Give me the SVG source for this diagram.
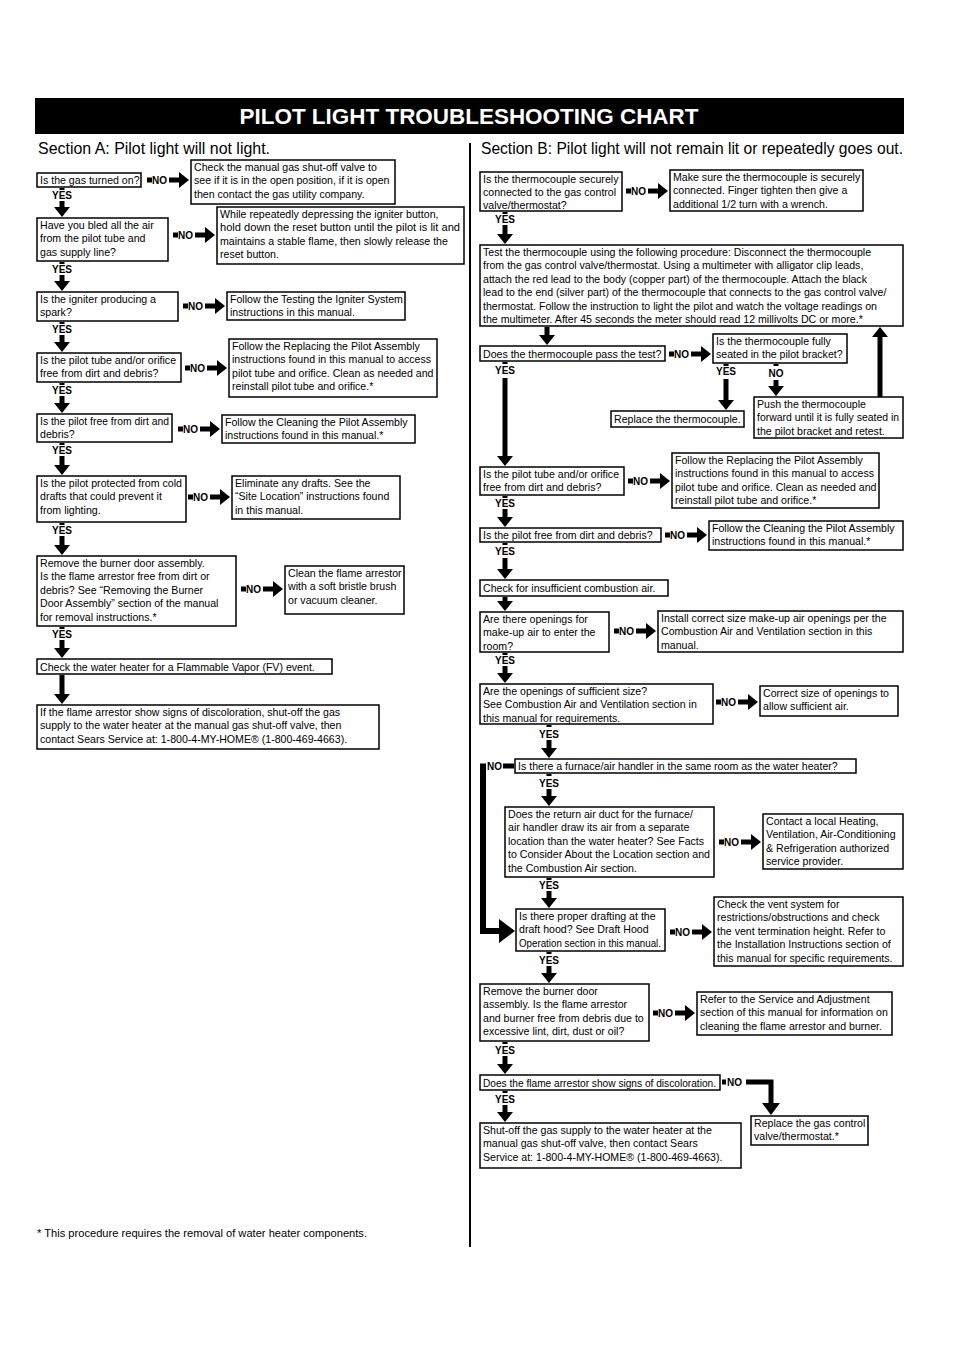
<svg xmlns="http://www.w3.org/2000/svg" width="954" height="1350" viewBox="0 0 954 1350">
<style>
text{font-family:"Liberation Sans",Arial,sans-serif;fill:#000}
.t{font-size:10.6px}
.b{fill:#fff;stroke:#000;stroke-width:1.5}
.lb{font-size:10px;font-weight:bold}
.ym{text-anchor:middle}
.c{stroke:#000;stroke-width:5;fill:none;marker-end:url(#ah)}
.k{stroke:#000;stroke-width:5;fill:none}
.s{fill:#000}
</style>
<defs>
<marker id="ah" markerUnits="userSpaceOnUse" markerWidth="10" markerHeight="16" viewBox="0 0 10 16" refX="0" refY="8" orient="auto"><path d="M0,0 L10,8 L0,16 Z" fill="#000"/></marker>
</defs>
<rect width="954" height="1350" fill="#fff"/>
<g id="title">
<rect x="35" y="98" width="869" height="36" fill="#000"/>
<text x="469" y="124" font-size="21.5" font-weight="bold" text-anchor="middle" style="fill:#fff" textLength="459" lengthAdjust="spacingAndGlyphs">PILOT LIGHT TROUBLESHOOTING CHART</text>
<text x="38" y="154" font-size="16" textLength="232" lengthAdjust="spacingAndGlyphs">Section A: Pilot light will not light.</text>
<text x="481" y="154" font-size="16" textLength="422" lengthAdjust="spacingAndGlyphs">Section B: Pilot light will not remain lit or repeatedly goes out.</text>
<line x1="470" y1="143" x2="470" y2="1247" stroke="#000" stroke-width="2"/>
<text x="37" y="1237" font-size="10.8" textLength="330" lengthAdjust="spacingAndGlyphs">* This procedure requires the removal of water heater components.</text>
</g>

<g id="a1"><rect class="b" x="37" y="173" width="104" height="14"/><text class="t" x="40" y="184">Is the gas turned on?</text></g>
<g id="a1no"><rect class="b" x="191" y="160" width="204" height="44"/><text class="t"><tspan x="194" y="171">Check the manual gas shut-off valve to</tspan><tspan x="194" y="184.4">see if it is in the open position, if it is open</tspan><tspan x="194" y="197.8">then contact the gas utility company.</tspan></text></g>
<g id="a2"><rect class="b" x="37" y="218" width="131" height="43"/><text class="t"><tspan x="40" y="229">Have you bled all the air</tspan><tspan x="40" y="242.4">from the pilot tube and</tspan><tspan x="40" y="255.8">gas supply line?</tspan></text></g>
<g id="a2no"><rect class="b" x="217" y="207" width="247" height="57"/><text class="t"><tspan x="220" y="218">While repeatedly depressing the igniter button,</tspan><tspan x="220" y="231.4" textLength="240" lengthAdjust="spacingAndGlyphs">hold down the reset button until the pilot is lit and</tspan><tspan x="220" y="244.8">maintains a stable flame, then slowly release the</tspan><tspan x="220" y="258.2">reset button.</tspan></text></g>
<g id="a3"><rect class="b" x="37" y="292" width="141" height="29"/><text class="t"><tspan x="40" y="303">Is the igniter producing a</tspan><tspan x="40" y="316.4">spark?</tspan></text></g>
<g id="a3no"><rect class="b" x="227" y="292" width="178" height="28"/><text class="t"><tspan x="230" y="303">Follow the Testing the Igniter System</tspan><tspan x="230" y="316.4">instructions in this manual.</tspan></text></g>
<g id="a4"><rect class="b" x="37" y="353" width="144" height="29"/><text class="t"><tspan x="40" y="364">Is the pilot tube and/or orifice</tspan><tspan x="40" y="377.4">free from dirt and debris?</tspan></text></g>
<g id="a4no"><rect class="b" x="229" y="339" width="208" height="58"/><text class="t"><tspan x="232" y="350">Follow the Replacing the Pilot Assembly</tspan><tspan x="232" y="363.4">instructions found in this manual to access</tspan><tspan x="232" y="376.8">pilot tube and orifice. Clean as needed and</tspan><tspan x="232" y="390.2">reinstall pilot tube and orifice.*</tspan></text></g>
<g id="a5"><rect class="b" x="37" y="414" width="135" height="28"/><text class="t"><tspan x="40" y="425" textLength="129" lengthAdjust="spacingAndGlyphs">Is the pilot free from dirt and</tspan><tspan x="40" y="438.4">debris?</tspan></text></g>
<g id="a5no"><rect class="b" x="222" y="415" width="193" height="28"/><text class="t"><tspan x="225" y="426">Follow the Cleaning the Pilot Assembly</tspan><tspan x="225" y="439.4">instructions found in this manual.*</tspan></text></g>
<g id="a6"><rect class="b" x="37" y="476" width="149" height="46"/><text class="t"><tspan x="40" y="487">Is the pilot protected from cold</tspan><tspan x="40" y="500.4">drafts that could prevent it</tspan><tspan x="40" y="513.8">from lighting.</tspan></text></g>
<g id="a6no"><rect class="b" x="232" y="476" width="168" height="43"/><text class="t"><tspan x="235" y="487">Eliminate any drafts.  See the</tspan><tspan x="235" y="500.4">“Site Location” instructions found</tspan><tspan x="235" y="513.8">in this manual.</tspan></text></g>
<g id="a7"><rect class="b" x="37" y="556" width="199" height="70"/><text class="t"><tspan x="40" y="567">Remove the burner door assembly.</tspan><tspan x="40" y="580.4">Is the flame arrestor free from dirt or</tspan><tspan x="40" y="593.8">debris? See “Removing the Burner</tspan><tspan x="40" y="607.2">Door Assembly” section of the manual</tspan><tspan x="40" y="620.6">for removal instructions.*</tspan></text></g>
<g id="a7no"><rect class="b" x="285" y="566" width="119" height="48"/><text class="t"><tspan x="288" y="577">Clean the flame arrestor</tspan><tspan x="288" y="590.4">with a soft bristle brush</tspan><tspan x="288" y="603.8">or vacuum cleaner.</tspan></text></g>
<g id="a8"><rect class="b" x="37" y="659" width="295" height="15"/><text class="t" x="40" y="670.5">Check the water heater for a Flammable Vapor (FV) event.</text></g>
<g id="a9"><rect class="b" x="37" y="705" width="342" height="44"/><text class="t"><tspan x="40" y="716">If the flame arrestor show signs of discoloration, shut-off the gas</tspan><tspan x="40" y="729.4">supply to the water heater at the manual gas shut-off valve, then</tspan><tspan x="40" y="742.8">contact Sears Service at: 1-800-4-MY-HOME® (1-800-469-4663).</tspan></text></g>

<g id="b1"><rect class="b" x="480" y="172" width="142" height="39"/><text class="t"><tspan x="483" y="182.5">Is the thermocouple securely</tspan><tspan x="483" y="195.9">connected to the gas control</tspan><tspan x="483" y="209.3">valve/thermostat?</tspan></text></g>
<g id="b1no"><rect class="b" x="670" y="170" width="193" height="41"/><text class="t"><tspan x="673" y="181">Make sure the thermocouple is securely</tspan><tspan x="673" y="194.4">connected. Finger tighten then give a</tspan><tspan x="673" y="207.8">additional 1/2 turn with a wrench.</tspan></text></g>
<g id="b2"><rect class="b" x="480" y="245" width="423" height="81"/><text class="t"><tspan x="483" y="256">Test the thermocouple using the following procedure: Disconnect the thermocouple</tspan><tspan x="483" y="269.4">from the gas control valve/thermostat. Using a multimeter with alligator clip leads,</tspan><tspan x="483" y="282.8">attach the red lead to the body (copper part) of the thermocouple. Attach the black</tspan><tspan x="483" y="296.2">lead to the end (silver part) of the thermocouple that connects to the gas control valve/</tspan><tspan x="483" y="309.6">thermostat. Follow the instruction to light the pilot and watch the voltage readings on</tspan><tspan x="483" y="323">the multimeter. After 45 seconds the meter should read 12 millivolts DC or more.*</tspan></text></g>
<g id="b3"><rect class="b" x="480" y="346" width="185" height="15"/><text class="t" x="483" y="357.5">Does the thermocouple pass the test?</text></g>
<g id="b3no"><rect class="b" x="713" y="334" width="134" height="29"/><text class="t"><tspan x="716" y="345">Is the thermocouple fully</tspan><tspan x="716" y="358.4">seated in the pilot bracket?</tspan></text></g>
<g id="b3rep"><rect class="b" x="611" y="411" width="133" height="16"/><text class="t" x="614" y="422.5">Replace the thermocouple.</text></g>
<g id="b3push"><rect class="b" x="754" y="397" width="149" height="41"/><text class="t"><tspan x="757" y="408">Push the thermocouple</tspan><tspan x="757" y="421.4" textLength="142" lengthAdjust="spacingAndGlyphs">forward until it is fully seated in</tspan><tspan x="757" y="434.8">the pilot bracket and retest.</tspan></text></g>
<g id="b4"><rect class="b" x="480" y="467" width="144" height="28"/><text class="t"><tspan x="483" y="478">Is the pilot tube and/or orifice</tspan><tspan x="483" y="491.4">free from dirt and debris?</tspan></text></g>
<g id="b4no"><rect class="b" x="672" y="453" width="207" height="55"/><text class="t"><tspan x="675" y="464">Follow the Replacing the Pilot Assembly</tspan><tspan x="675" y="477.4">instructions found in this manual to access</tspan><tspan x="675" y="490.8">pilot tube and orifice. Clean as needed and</tspan><tspan x="675" y="504.2">reinstall pilot tube and orifice.*</tspan></text></g>
<g id="b5"><rect class="b" x="480" y="528" width="181" height="14"/><text class="t" x="483" y="539">Is the pilot free from dirt and debris?</text></g>
<g id="b5no"><rect class="b" x="709" y="521" width="194" height="29"/><text class="t"><tspan x="712" y="532">Follow the Cleaning the Pilot Assembly</tspan><tspan x="712" y="545.4">instructions found in this manual.*</tspan></text></g>
<g id="b6"><rect class="b" x="480" y="580" width="188" height="16"/><text class="t" x="483" y="591.5">Check for insufficient combustion air.</text></g>
<g id="b7"><rect class="b" x="480" y="612" width="129" height="40"/><text class="t"><tspan x="483" y="623">Are there openings for</tspan><tspan x="483" y="636.4">make-up air to enter the</tspan><tspan x="483" y="649.8">room?</tspan></text></g>
<g id="b7no"><rect class="b" x="658" y="611" width="245" height="41"/><text class="t"><tspan x="661" y="622">Install correct size make-up air openings per the</tspan><tspan x="661" y="635.4">Combustion Air and Ventilation section in this</tspan><tspan x="661" y="648.8">manual.</tspan></text></g>
<g id="b8"><rect class="b" x="480" y="684" width="233" height="40"/><text class="t"><tspan x="483" y="695">Are the openings of sufficient size?</tspan><tspan x="483" y="708.4">See Combustion Air and Ventilation section in</tspan><tspan x="483" y="721.8">this manual for requirements.</tspan></text></g>
<g id="b8no"><rect class="b" x="760" y="686" width="138" height="30"/><text class="t"><tspan x="763" y="697">Correct size of openings to</tspan><tspan x="763" y="710.4">allow sufficient air.</tspan></text></g>
<g id="b9"><rect class="b" x="515" y="759" width="341" height="14"/><text class="t" x="518" y="770">Is there a furnace/air handler in the same room as the water heater?</text></g>
<g id="b10"><rect class="b" x="505" y="807" width="209" height="70"/><text class="t"><tspan x="508" y="818">Does the return air duct for the furnace/</tspan><tspan x="508" y="831.4">air handler draw its air from a separate</tspan><tspan x="508" y="844.8">location than the water heater? See Facts</tspan><tspan x="508" y="858.2">to Consider About the Location section and</tspan><tspan x="508" y="871.6">the Combustion Air section.</tspan></text></g>
<g id="b10no"><rect class="b" x="763" y="814" width="140" height="55"/><text class="t"><tspan x="766" y="825">Contact a local Heating,</tspan><tspan x="766" y="838.4">Ventilation, Air-Conditioning</tspan><tspan x="766" y="851.8">&amp; Refrigeration authorized</tspan><tspan x="766" y="865.2">service provider.</tspan></text></g>
<g id="b11"><rect class="b" x="516" y="909" width="149" height="42"/><text class="t"><tspan x="519" y="920">Is there proper drafting at the</tspan><tspan x="519" y="933.4">draft hood? See Draft Hood</tspan><tspan x="519" y="946.8" textLength="142" lengthAdjust="spacingAndGlyphs">Operation section in this manual.</tspan></text></g>
<g id="b11no"><rect class="b" x="714" y="897" width="189" height="69"/><text class="t"><tspan x="717" y="908">Check the vent system for</tspan><tspan x="717" y="921.4">restrictions/obstructions and check</tspan><tspan x="717" y="934.8">the vent termination height. Refer to</tspan><tspan x="717" y="948.2">the Installation Instructions section of</tspan><tspan x="717" y="961.6">this manual for specific requirements.</tspan></text></g>
<g id="b12"><rect class="b" x="480" y="984" width="169" height="57"/><text class="t"><tspan x="483" y="995">Remove the burner door</tspan><tspan x="483" y="1008.4">assembly. Is the flame arrestor</tspan><tspan x="483" y="1021.8">and burner free from debris due to</tspan><tspan x="483" y="1035.2">excessive lint, dirt, dust or oil?</tspan></text></g>
<g id="b12no"><rect class="b" x="697" y="992" width="195" height="43"/><text class="t"><tspan x="700" y="1003">Refer to the Service and Adjustment</tspan><tspan x="700" y="1016.4">section of this manual for information on</tspan><tspan x="700" y="1029.8">cleaning the flame arrestor and burner.</tspan></text></g>
<g id="b13"><rect class="b" x="480" y="1075" width="240" height="15"/><text class="t" x="483" y="1086.5" textLength="233" lengthAdjust="spacingAndGlyphs">Does the flame arrestor show signs of discoloration.</text></g>
<g id="b13no"><rect class="b" x="751" y="1116" width="117" height="29"/><text class="t"><tspan x="754" y="1127">Replace the gas control</tspan><tspan x="754" y="1140.4">valve/thermostat.*</tspan></text></g>
<g id="b14"><rect class="b" x="480" y="1123" width="261" height="45"/><text class="t"><tspan x="483" y="1134">Shut-off the gas supply to the water heater at the</tspan><tspan x="483" y="1147.4">manual gas shut-off valve, then contact Sears</tspan><tspan x="483" y="1160.8">Service at: 1-800-4-MY-HOME® (1-800-469-4663).</tspan></text></g>

<g id="connectors">
<g>
<rect class="s" x="59.5" y="188" width="5" height="2"/><text class="lb ym" x="62" y="199">YES</text><line class="c" x1="62" y1="201" x2="62" y2="207"/>
<rect class="s" x="59.5" y="262" width="5" height="2"/><text class="lb ym" x="62" y="273">YES</text><line class="c" x1="62" y1="275" x2="62" y2="281"/>
<rect class="s" x="59.5" y="322" width="5" height="2"/><text class="lb ym" x="62" y="333">YES</text><line class="c" x1="62" y1="335" x2="62" y2="342"/>
<rect class="s" x="59.5" y="383" width="5" height="2"/><text class="lb ym" x="62" y="394">YES</text><line class="c" x1="62" y1="396" x2="62" y2="403"/>
<rect class="s" x="59.5" y="443" width="5" height="2"/><text class="lb ym" x="62" y="454">YES</text><line class="c" x1="62" y1="456" x2="62" y2="465"/>
<rect class="s" x="59.5" y="523" width="5" height="2"/><text class="lb ym" x="62" y="534">YES</text><line class="c" x1="62" y1="536" x2="62" y2="545"/>
<rect class="s" x="59.5" y="627" width="5" height="2"/><text class="lb ym" x="62" y="638">YES</text><line class="c" x1="62" y1="640" x2="62" y2="648"/>
<line class="c" x1="62" y1="675" x2="62" y2="694"/>
</g>
<g>
<rect class="s" x="147" y="177.5" width="5" height="5"/><text class="lb" x="152" y="184">NO</text><line class="c" x1="169" y1="180" x2="179" y2="180"/>
<rect class="s" x="173" y="232.5" width="5" height="5"/><text class="lb" x="178" y="239">NO</text><line class="c" x1="195" y1="235" x2="205" y2="235"/>
<rect class="s" x="183" y="303.5" width="5" height="5"/><text class="lb" x="188" y="310">NO</text><line class="c" x1="205" y1="306" x2="215" y2="306"/>
<rect class="s" x="185" y="365.5" width="5" height="5"/><text class="lb" x="190" y="372">NO</text><line class="c" x1="207" y1="368" x2="217" y2="368"/>
<rect class="s" x="178" y="426.5" width="5" height="5"/><text class="lb" x="183" y="433">NO</text><line class="c" x1="200" y1="429" x2="210" y2="429"/>
<rect class="s" x="188" y="494.5" width="5" height="5"/><text class="lb" x="193" y="501">NO</text><line class="c" x1="210" y1="497" x2="220" y2="497"/>
<rect class="s" x="241" y="586.5" width="5" height="5"/><text class="lb" x="246" y="593">NO</text><line class="c" x1="263" y1="589" x2="273" y2="589"/>
</g>
<g>
<rect class="s" x="502.5" y="212" width="5" height="2"/><text class="lb ym" x="505" y="223">YES</text><line class="c" x1="505" y1="225" x2="505" y2="234"/>
<line class="c" x1="547" y1="327" x2="547" y2="335"/>
<rect class="s" x="502.5" y="362" width="5" height="2"/><text class="lb ym" x="505" y="374">YES</text><line class="c" x1="505" y1="378" x2="505" y2="456"/>
<rect class="s" x="723.5" y="364" width="5" height="2"/><text class="lb ym" x="726" y="375">YES</text><line class="c" x1="726" y1="379" x2="726" y2="400"/>
<rect class="s" x="773.5" y="364" width="5" height="2"/><text class="lb ym" x="776" y="377">NO</text><line class="c" x1="776" y1="380" x2="776" y2="386"/>
<line class="c" x1="880" y1="397" x2="880" y2="337"/>
<rect class="s" x="502.5" y="496" width="5" height="2"/><text class="lb ym" x="505" y="507">YES</text><line class="c" x1="505" y1="509" x2="505" y2="517"/>
<rect class="s" x="502.5" y="543" width="5" height="2"/><text class="lb ym" x="505" y="555">YES</text><line class="c" x1="505" y1="558" x2="505" y2="569"/>
<line class="c" x1="505" y1="597" x2="505" y2="601"/>
<rect class="s" x="502.5" y="653" width="5" height="2"/><text class="lb ym" x="505" y="664">YES</text><line class="c" x1="505" y1="666" x2="505" y2="673"/>
<rect class="s" x="546.5" y="725" width="5" height="2"/><text class="lb ym" x="549" y="738">YES</text><line class="c" x1="549" y1="740" x2="549" y2="748"/>
<rect class="s" x="546.5" y="774" width="5" height="2"/><text class="lb ym" x="549" y="787">YES</text><line class="c" x1="549" y1="789" x2="549" y2="796"/>
<rect class="s" x="546.5" y="878" width="5" height="2"/><text class="lb ym" x="549" y="889">YES</text><line class="c" x1="549" y1="891" x2="549" y2="898"/>
<rect class="s" x="546.5" y="952" width="5" height="2"/><text class="lb ym" x="549" y="964">YES</text><line class="c" x1="549" y1="966" x2="549" y2="973"/>
<rect class="s" x="502.5" y="1042" width="5" height="2"/><text class="lb ym" x="505" y="1054">YES</text><line class="c" x1="505" y1="1056" x2="505" y2="1064"/>
<rect class="s" x="502.5" y="1091" width="5" height="2"/><text class="lb ym" x="505" y="1103">YES</text><line class="c" x1="505" y1="1105" x2="505" y2="1112"/>
</g>
<g>
<rect class="s" x="626" y="188.5" width="5" height="5"/><text class="lb" x="631" y="195">NO</text><line class="c" x1="648" y1="191" x2="658" y2="191"/>
<rect class="s" x="669" y="351.5" width="5" height="5"/><text class="lb" x="674" y="358">NO</text><line class="c" x1="691" y1="354" x2="701" y2="354"/>
<rect class="s" x="628" y="478.5" width="5" height="5"/><text class="lb" x="633" y="485">NO</text><line class="c" x1="650" y1="481" x2="660" y2="481"/>
<rect class="s" x="665" y="532.5" width="5" height="5"/><text class="lb" x="670" y="539">NO</text><line class="c" x1="687" y1="535" x2="697" y2="535"/>
<rect class="s" x="614" y="628.5" width="5" height="5"/><text class="lb" x="619" y="635">NO</text><line class="c" x1="636" y1="631" x2="646" y2="631"/>
<rect class="s" x="716" y="699.5" width="5" height="5"/><text class="lb" x="721" y="706">NO</text><line class="c" x1="738" y1="702" x2="748" y2="702"/>
<rect class="s" x="719" y="839.5" width="5" height="5"/><text class="lb" x="724" y="846">NO</text><line class="c" x1="741" y1="842" x2="751" y2="842"/>
<rect class="s" x="670" y="929.5" width="5" height="5"/><text class="lb" x="675" y="936">NO</text><line class="c" x1="692" y1="932" x2="702" y2="932"/>
<rect class="s" x="653" y="1010.5" width="5" height="5"/><text class="lb" x="658" y="1017">NO</text><line class="c" x1="675" y1="1013" x2="685" y2="1013"/>
</g>
<g>
<text class="lb" x="487" y="770">NO</text>
<rect class="s" x="503" y="763.5" width="11" height="5"/>
<path d="M483,763.5 V931 H500" stroke="#000" stroke-width="6" fill="none"/>
<path d="M499,919 L515,931 L499,943 Z" fill="#000"/>
</g>
<g>
<rect class="s" x="722" y="1079.5" width="4" height="5"/><text class="lb" x="727" y="1086">NO</text>
<path d="M746,1082 H771 V1104" class="k"/>
<path d="M762,1103 L780,1103 L771,1115 Z" fill="#000"/>
</g>
</g>
</svg>
